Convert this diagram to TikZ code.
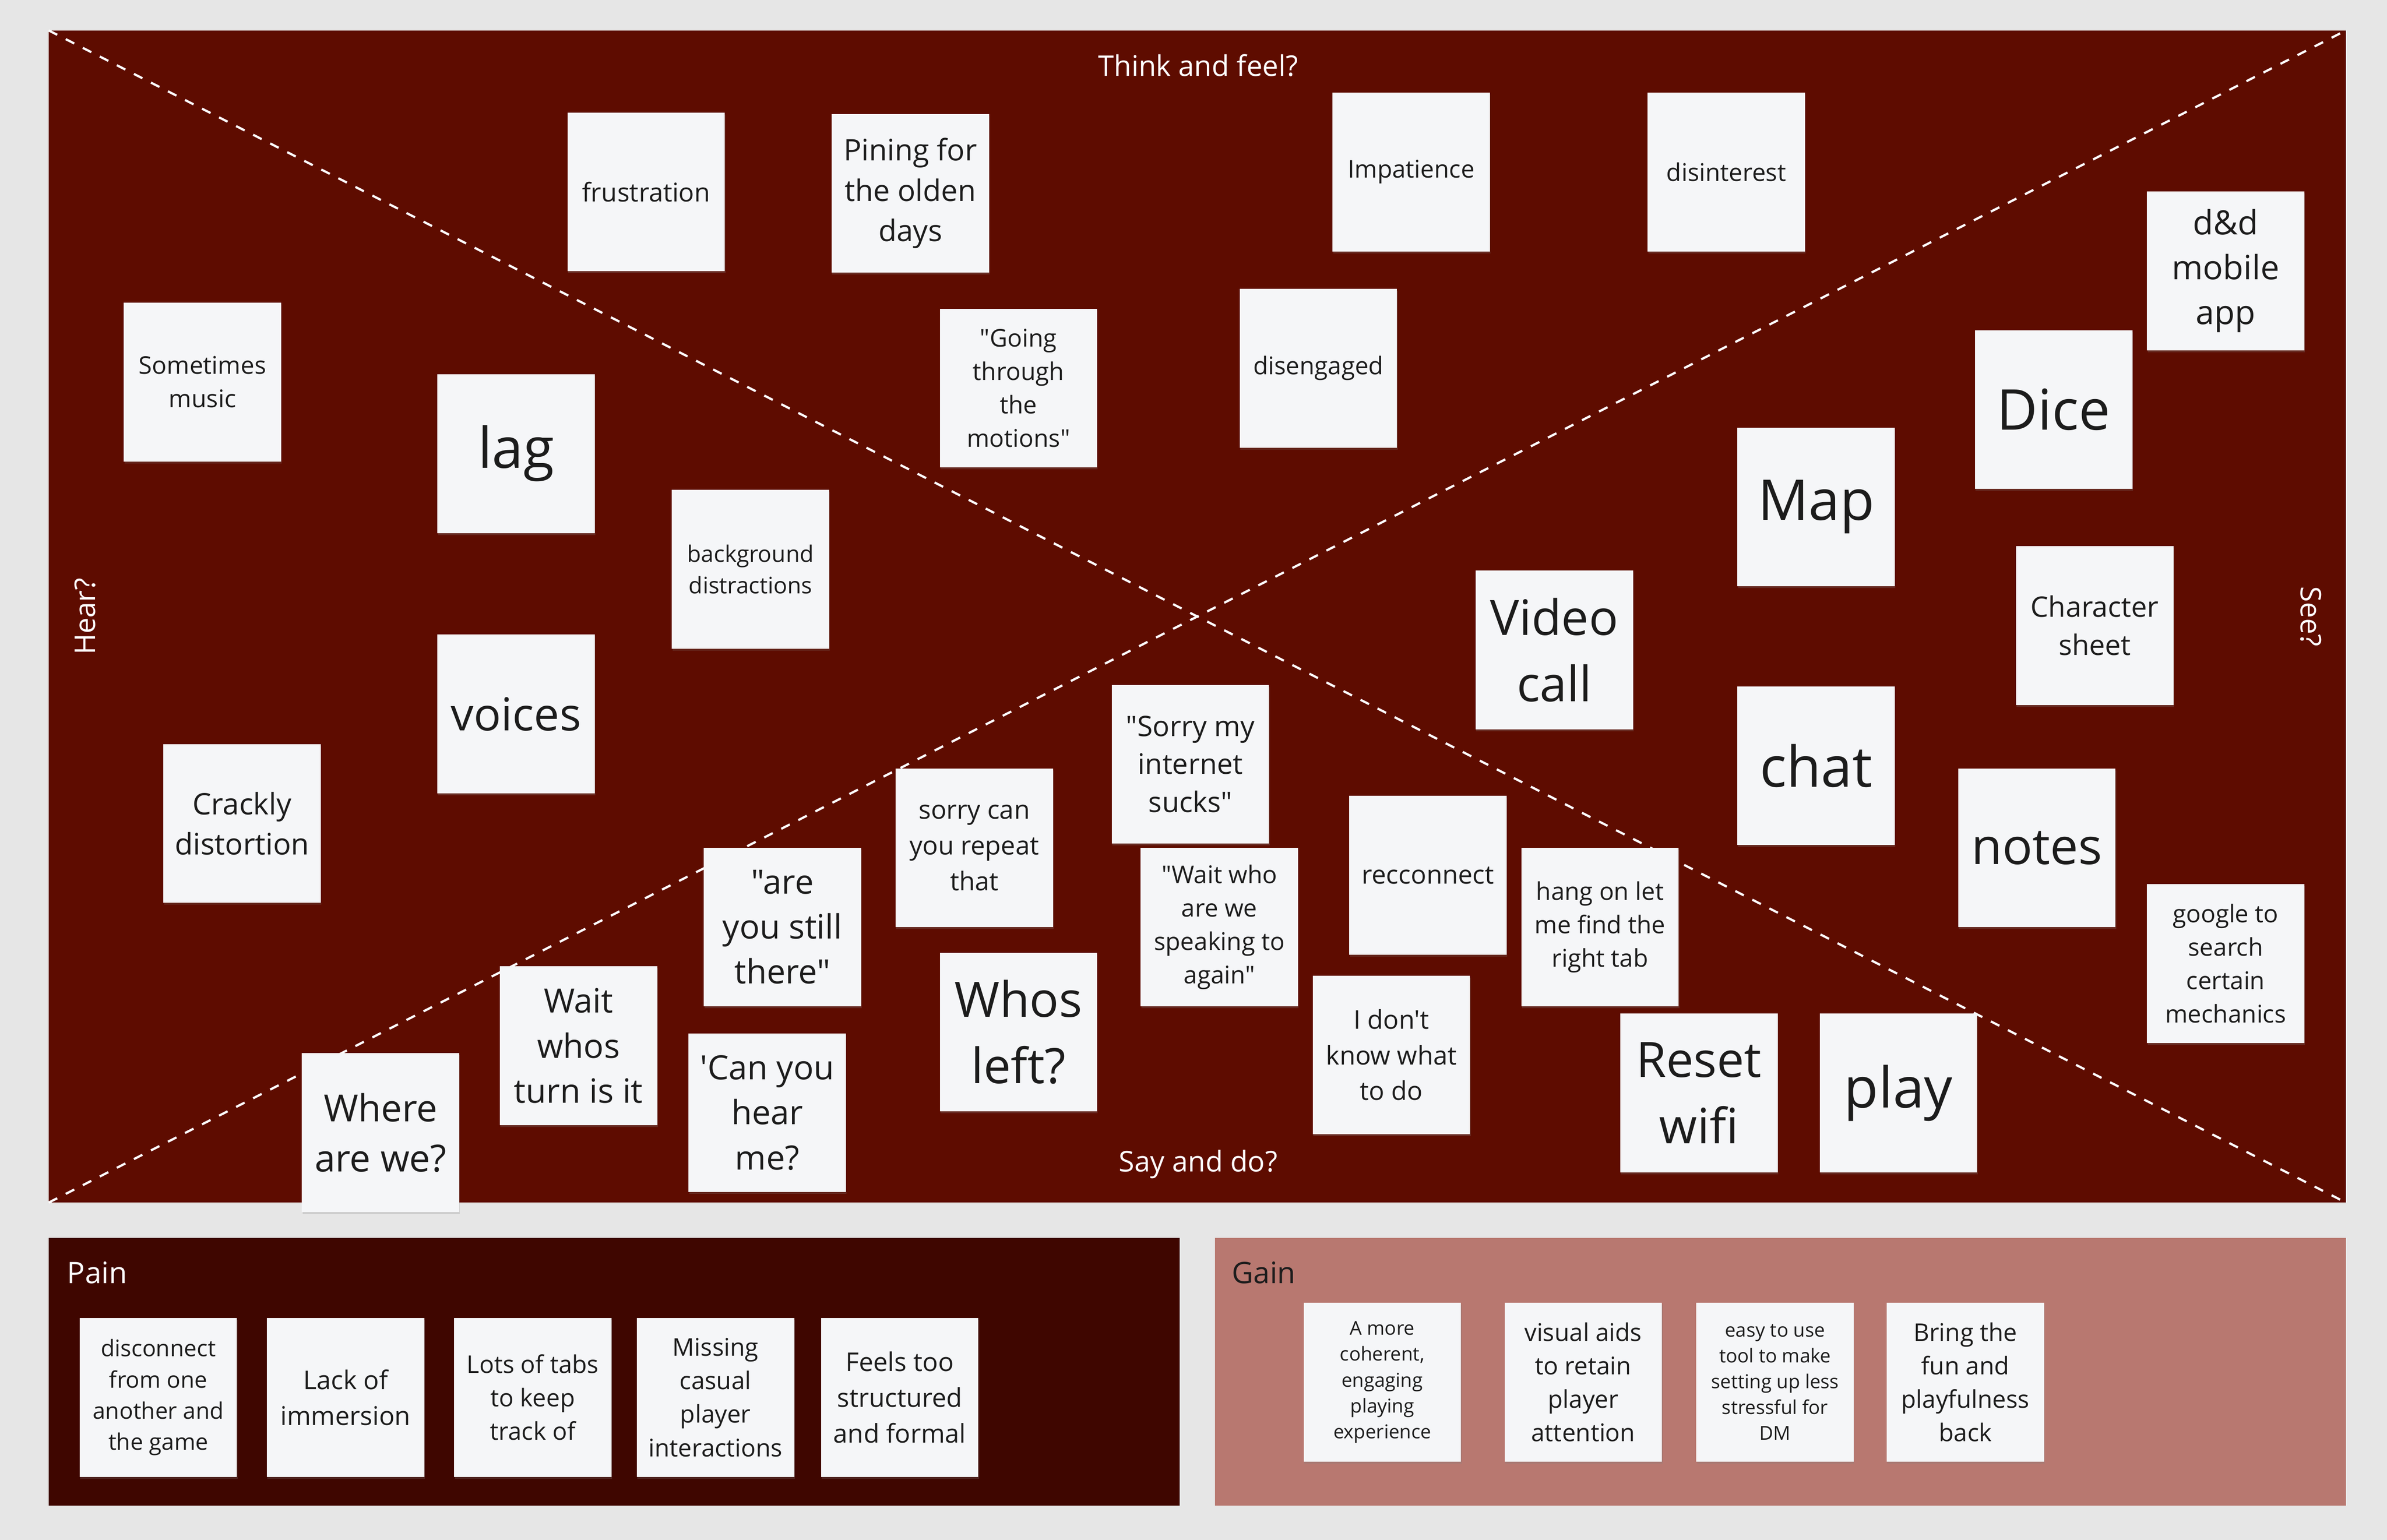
\documentclass[tikz,border=0pt]{standalone}
\usepackage{fontspec}
\setmainfont{Open Sans}
\newfontfamily\boardfont{Open Sans}
\usetikzlibrary{shadows}

\definecolor{canvas}{HTML}{E6E6E6}
\definecolor{boardred}{HTML}{5E0C00}
\definecolor{painred}{HTML}{3F0600}
\definecolor{gainrose}{HTML}{B87870}
\definecolor{paper}{HTML}{F5F6F8}
\definecolor{ink}{HTML}{1C1C1C}

\newcommand{\dq}{\symbol{34}}
\newcommand{\sq}{\symbol{39}}

\tikzset{
    t12/.style={font=\boardfont\fontsize{12}{16.2}\selectfont},
    t15/.style={font=\boardfont\fontsize{14.3}{19.6}\selectfont},
    t16/.style={font=\boardfont\fontsize{15.3}{21}\selectfont},
    t17/.style={font=\boardfont\fontsize{16.2}{22.4}\selectfont},
    t18/.style={font=\boardfont\fontsize{17.7}{23.9}\selectfont},
    t19/.style={font=\boardfont\fontsize{18.6}{25.3}\selectfont},
    t22/.style={font=\boardfont\fontsize{21}{28.2}\selectfont},
    t24/.style={font=\boardfont\fontsize{23.4}{31.5}\selectfont},
    t28/.style={font=\boardfont\fontsize{28.5}{39}\selectfont},
    t32/.style={font=\boardfont\fontsize{30.6}{41.5}\selectfont},
    t33/.style={font=\boardfont\fontsize{31.5}{42.5}\selectfont},
    t37/.style={font=\boardfont\fontsize{35.3}{48}\selectfont}
}

\begin{document}
\begin{tikzpicture}[
    x=0.03357cm, y=-0.03357cm,
    sticky/.style={fill=paper, text=ink, align=center, inner sep=0pt,
        minimum width=3.47cm, minimum height=3.5cm,
        drop shadow={shadow xshift=0.4pt, shadow yshift=-1.2pt, opacity=0.25}},
    heading/.style={text=white, font=\boardfont\fontsize{17.9}{24}\selectfont},
    diag/.style={white, dashed, line width=1.4pt, dash pattern=on 6pt off 6pt}
]
    \useasboundingbox[fill=canvas] (0,0) rectangle (1568,1011.6);

    % empathy board
    \fill[boardred] (32,20) rectangle (1541,790);
    \coordinate (nw) at (32,20);
    \coordinate (ne) at (1541,20);
    \coordinate (sw) at (32,790);
    \coordinate (se) at (1541,790);
    \draw[diag] (nw) -- (se);
    \draw[diag] (sw) -- (ne);

    \node[heading] (think) at (787,43) {Think and feel?};
    \node[heading] (say) at (787,765) {Say and do?};
    \node[heading, rotate=90] (hear) at (56,405) {Hear?};
    \node[heading, rotate=-90] (see) at (1518,405) {See?};

    % think and feel
    \node[sticky, t17] (frus) at (424.5,126) {frustration};
    \node[sticky, t19] (pine) at (598,127) {Pining for\\the olden\\days};
    \node[sticky, t16] (impa) at (927,113) {Impatience};
    \node[sticky, t16] (disi) at (1134,113) {disinterest};
    \node[sticky, t16] (moti) at (669,255) {\dq Going\\through\\the\\motions\dq};
    \node[sticky, t16] (dise) at (866,242) {disengaged};

    % hear
    \node[sticky, t16] (musi) at (133,251) {Sometimes\\music};
    \node[sticky, t37] (lag) at (339,298) {lag};
    \node[sticky, t15] (back) at (493,374) {background\\distractions};
    \node[sticky, t28] (voic) at (339,469) {voices};
    \node[sticky, t19] (crac) at (159,541) {Crackly\\distortion};

    % see
    \node[sticky, t22] (dnd) at (1462,178) {d\&d\\mobile\\app};
    \node[sticky, t37] (dice) at (1349,269) {Dice};
    \node[sticky, t37] (map) at (1193,333) {Map};
    \node[sticky, t18] (char) at (1376,411) {Character\\sheet};
    \node[sticky, t32] (vide) at (1021,427) {Video\\call};
    \node[sticky, t37] (chat) at (1193,503) {chat};
    \node[sticky, t33] (note) at (1338,557) {notes};
    \node[sticky, t16] (goog) at (1462,633) {google to\\search\\certain\\mechanics};
    \node[sticky, t37] (play) at (1247,718) {play};
    \node[sticky, t32] (rese) at (1116,718) {Reset\\wifi};

    % say and do
    \node[sticky, t18] (sorr) at (782,502) {\dq Sorry my\\internet\\sucks\dq};
    \node[sticky, t17] (repe) at (640,557) {sorry can\\you repeat\\that};
    \node[sticky, t17] (reco) at (938,575) {recconnect};
    \node[sticky, t16] (spea) at (801,609) {\dq Wait who\\are we\\speaking to\\again\dq};
    \node[sticky, t16] (hang) at (1051,609) {hang on let\\me find the\\right tab};
    \node[sticky, t22] (stil) at (514,609) {\dq are\\you still\\there\dq};
    \node[sticky, t32] (left) at (669,678) {Whos\\left?};
    \node[sticky, t17] (know) at (914,693) {I don\sq t\\know what\\to do};
    \node[sticky, t22] (turn) at (380,687) {Wait\\whos\\turn is it};
    \node[sticky, t22] (canu) at (504,731) {\sq Can you\\hear\\me?};
    \node[sticky, t24] (wher) at (250,744) {Where\\are we?};

    % pain
    \fill[painred] (32,813) rectangle (775,989);
    \node[anchor=base west, inner sep=0pt, text=white, t19] (pain) at (44,843) {Pain};
    \node[sticky, t15] (p1) at (104,918) {disconnect\\from one\\another and\\the game};
    \node[sticky, t17] (p2) at (227,918) {Lack of\\immersion};
    \node[sticky, t16] (p3) at (350,918) {Lots of tabs\\to keep\\track of};
    \node[sticky, t16] (p4) at (470,918) {Missing\\casual\\player\\interactions};
    \node[sticky, t17] (p5) at (591,918) {Feels too\\structured\\and formal};

    % gain
    \fill[gainrose] (798,813) rectangle (1541,989);
    \node[anchor=base west, inner sep=0pt, text=ink, t19] (gain) at (809,843) {Gain};
    \node[sticky, t12] (g1) at (908,908) {A more\\coherent,\\engaging\\playing\\experience};
    \node[sticky, t16] (g2) at (1040,908) {visual aids\\to retain\\player\\attention};
    \node[sticky, t12] (g3) at (1166,908) {easy to use\\tool to make\\setting up less\\stressful for\\DM};
    \node[sticky, t16] (g4) at (1291,908) {Bring the\\fun and\\playfulness\\back};
\end{tikzpicture}
\end{document}
